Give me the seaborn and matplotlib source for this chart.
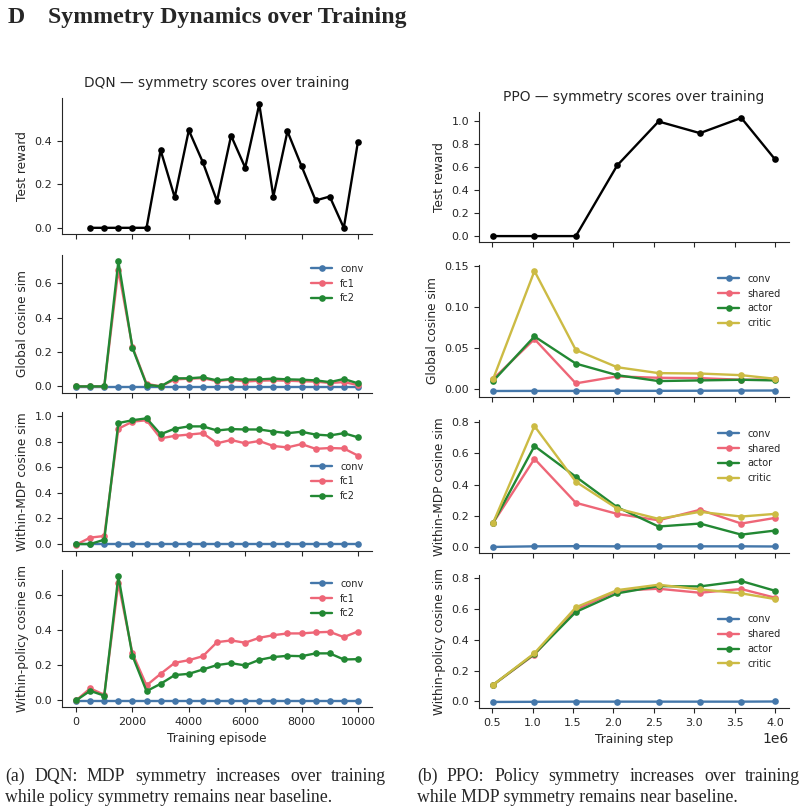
import matplotlib
matplotlib.use("Agg")
import matplotlib.pyplot as plt
import seaborn as sns
import numpy as np

# ---------------- data ----------------
dqn_episodes = [0, 500, 1000, 1500, 2000, 2500, 3000, 3500, 4000, 4500, 5000,
                5500, 6000, 6500, 7000, 7500, 8000, 8500, 9000, 9500, 10000]
dqn_reward_episodes = dqn_episodes[1:]
dqn_reward = [0.0, 0.0, 0.0, 0.0, 0.0, 0.357, 0.14, 0.449, 0.301, 0.123,
              0.424, 0.277, 0.569, 0.144, 0.444, 0.284, 0.126, 0.144, 0.0, 0.395]

dqn_global_conv = [-0.002] * 21
dqn_global_fc1 = [0.0, 0.0, 0.0, 0.68, 0.23, 0.015, 0.0, 0.04, 0.045, 0.048, 0.03,
                  0.04, 0.028, 0.033, 0.035, 0.033, 0.03, 0.028, 0.02, 0.025, 0.008]
dqn_global_fc2 = [0.0, 0.0, 0.0, 0.729, 0.224, 0.01, 0.0, 0.047, 0.047, 0.053, 0.035,
                  0.043, 0.039, 0.041, 0.045, 0.041, 0.039, 0.035, 0.025, 0.043, 0.018]

dqn_mdp_conv = [0.0] * 21
dqn_mdp_fc1 = [-0.005, 0.05, 0.063, 0.9, 0.955, 0.966, 0.825, 0.844, 0.854, 0.865, 0.786,
               0.812, 0.786, 0.804, 0.765, 0.754, 0.78, 0.743, 0.749, 0.746, 0.69]
dqn_mdp_fc2 = [0.0, 0.0, 0.034, 0.944, 0.966, 0.981, 0.857, 0.9, 0.918, 0.918, 0.886,
               0.897, 0.894, 0.894, 0.878, 0.865, 0.876, 0.854, 0.847, 0.865, 0.833]

dqn_pol_conv = [-0.002] * 21
dqn_pol_fc1 = [0.0, 0.069, 0.032, 0.67, 0.269, 0.086, 0.152, 0.215, 0.23, 0.253, 0.333,
               0.343, 0.33, 0.358, 0.373, 0.383, 0.383, 0.389, 0.392, 0.362, 0.394]
dqn_pol_fc2 = [0.0, 0.055, 0.027, 0.71, 0.255, 0.053, 0.095, 0.145, 0.152, 0.177, 0.202,
               0.213, 0.2, 0.232, 0.248, 0.255, 0.253, 0.269, 0.269, 0.234, 0.236]

ppo_steps = [512000, 1024000, 1536000, 2048000, 2560000, 3072000, 3584000, 4000000]
ppo_reward = [0.0, 0.0, 0.0, 0.613, 0.994, 0.893, 1.025, 0.667]

ppo_global_conv = [-0.0028, -0.0027, -0.0027, -0.0026, -0.0026, -0.0025, -0.0023, -0.0022]
ppo_global_shared = [0.0117, 0.0605, 0.0065, 0.015, 0.0133, 0.0129, 0.0109, 0.0113]
ppo_global_actor = [0.0093, 0.0637, 0.0306, 0.0165, 0.0093, 0.0101, 0.0109, 0.0101]
ppo_global_critic = [0.0117, 0.1435, 0.0472, 0.0262, 0.019, 0.0185, 0.0165, 0.0121]

ppo_mdp_conv = [0.0, 0.004, 0.005, 0.004, 0.004, 0.004, 0.004, 0.003]
ppo_mdp_shared = [0.154, 0.565, 0.283, 0.212, 0.171, 0.238, 0.15, 0.186]
ppo_mdp_actor = [0.154, 0.647, 0.45, 0.255, 0.131, 0.15, 0.079, 0.105]
ppo_mdp_critic = [0.154, 0.775, 0.418, 0.246, 0.18, 0.225, 0.195, 0.212]

ppo_pol_conv = [-0.003, -0.002, -0.001, -0.001, -0.001, -0.001, -0.001, 0.0]
ppo_pol_shared = [0.108, 0.305, 0.597, 0.72, 0.733, 0.707, 0.731, 0.675]
ppo_pol_actor = [0.108, 0.309, 0.582, 0.703, 0.75, 0.748, 0.783, 0.72]
ppo_pol_critic = [0.108, 0.314, 0.612, 0.724, 0.759, 0.729, 0.703, 0.666]

colors = {"conv": "#4477AA", "fc1": "#EE6677", "shared": "#EE6677",
          "fc2": "#228833", "actor": "#228833", "critic": "#CCBB44"}

TICK = 8
LABEL = 8.7
TITLE = 9.9
LEG = 7

sns.set_style("ticks")
plt.rcParams["font.family"] = ["DejaVu Sans"]
plt.rcParams["axes.edgecolor"] = "0.15"

W, H = 805, 811
fig = plt.figure(figsize=(W / 100, H / 100), dpi=100)


def add_ax(x0, x1, top, bottom):
    return fig.add_axes([x0 / W, 1 - bottom / H, (x1 - x0) / W, (bottom - top) / H])


def draw_series(ax, x, series, legend_loc):
    for name, vals in series:
        sns.lineplot(x=x, y=vals, ax=ax, color=colors[name], label=name,
                     marker="o", markersize=4.8, markeredgewidth=0, linewidth=1.7)
    ax.legend(loc=legend_loc, frameon=False, fontsize=LEG, handlelength=2.2)


def style(ax, ylabel, show_x=False, xlabel=None):
    sns.despine(ax=ax)
    ax.set_ylabel(ylabel, fontsize=LABEL)
    ax.tick_params(labelsize=TICK, length=3.5, width=0.8)
    if not show_x:
        ax.tick_params(axis="x", labelbottom=False)
        ax.set_xlabel("")
    else:
        ax.set_xlabel(xlabel, fontsize=LABEL)


# ---------------- DQN column ----------------
lx0, lx1 = 62, 372
left_rows = [(98, 234), (255, 393), (412, 551), (570, 707)]
dqn_axes = [add_ax(lx0, lx1, t, b) for t, b in left_rows]
for a in dqn_axes[1:]:
    a.sharex(dqn_axes[0])

ax = dqn_axes[0]
sns.lineplot(x=dqn_reward_episodes, y=dqn_reward, ax=ax, color="black",
             marker="o", markersize=4.8, markeredgewidth=0, linewidth=1.7)
ax.set_title("DQN — symmetry scores over training", fontsize=TITLE, pad=8)
style(ax, "Test reward")

draw_series(dqn_axes[1], dqn_episodes,
            [("conv", dqn_global_conv), ("fc1", dqn_global_fc1), ("fc2", dqn_global_fc2)],
            "upper right")
style(dqn_axes[1], "Global cosine sim")

draw_series(dqn_axes[2], dqn_episodes,
            [("conv", dqn_mdp_conv), ("fc1", dqn_mdp_fc1), ("fc2", dqn_mdp_fc2)],
            "center right")
style(dqn_axes[2], "Within-MDP cosine sim")

draw_series(dqn_axes[3], dqn_episodes,
            [("conv", dqn_pol_conv), ("fc1", dqn_pol_fc1), ("fc2", dqn_pol_fc2)],
            "upper right")
style(dqn_axes[3], "Within-policy cosine sim", show_x=True, xlabel="Training episode")
dqn_axes[3].set_xticks([0, 2000, 4000, 6000, 8000, 10000])
dqn_axes[1].set_yticks([0.0, 0.2, 0.4, 0.6])
dqn_axes[3].set_yticks([0.0, 0.2, 0.4, 0.6])

# ---------------- PPO column ----------------
rx0, rx1 = 479, 789
right_rows = [(112, 242), (265, 397), (420, 553), (575, 708)]
ppo_axes = [add_ax(rx0, rx1, t, b) for t, b in right_rows]
for a in ppo_axes[1:]:
    a.sharex(ppo_axes[0])

ax = ppo_axes[0]
sns.lineplot(x=ppo_steps, y=ppo_reward, ax=ax, color="black",
             marker="o", markersize=4.8, markeredgewidth=0, linewidth=1.7)
ax.set_title("PPO — symmetry scores over training", fontsize=TITLE, pad=8)
style(ax, "Test reward")
ax.set_yticks([0.0, 0.2, 0.4, 0.6, 0.8, 1.0])

draw_series(ppo_axes[1], ppo_steps,
            [("conv", ppo_global_conv), ("shared", ppo_global_shared),
             ("actor", ppo_global_actor), ("critic", ppo_global_critic)],
            "upper right")
style(ppo_axes[1], "Global cosine sim")

draw_series(ppo_axes[2], ppo_steps,
            [("conv", ppo_mdp_conv), ("shared", ppo_mdp_shared),
             ("actor", ppo_mdp_actor), ("critic", ppo_mdp_critic)],
            "upper right")
style(ppo_axes[2], "Within-MDP cosine sim")

draw_series(ppo_axes[3], ppo_steps,
            [("conv", ppo_pol_conv), ("shared", ppo_pol_shared),
             ("actor", ppo_pol_actor), ("critic", ppo_pol_critic)],
            "center right")
style(ppo_axes[3], "Within-policy cosine sim", show_x=True, xlabel="Training step")
ppo_axes[3].set_xticks(np.arange(0.5e6, 4.01e6, 0.5e6))
ppo_axes[3].xaxis.get_offset_text().set_fontsize(10)
ppo_axes[1].set_yticks([0.0, 0.05, 0.10, 0.15])
ppo_axes[1].set_yticklabels(["0.00", "0.05", "0.10", "0.15"])

# ---------------- heading and captions ----------------
serif = ["Liberation Serif", "DejaVu Serif"]
fig.text(8 / W, 1 - 23 / H, "D", fontsize=17.2, fontweight="bold", family=serif, va="baseline")
fig.text(48 / W, 1 - 23 / H, "Symmetry Dynamics over Training", fontsize=17.2,
         fontweight="bold", family=serif, va="baseline")


def justified(x0, x1, y, text, size):
    words = text.split()
    objs = [fig.text(0, 1 - y / H, w, fontsize=size, family=serif, va="baseline") for w in words]
    renderer = fig.canvas.get_renderer()
    widths = [o.get_window_extent(renderer).width for o in objs]
    gap = ((x1 - x0) - sum(widths)) / (len(words) - 1)
    x = x0
    for o, w in zip(objs, widths):
        o.set_x(x / W)
        x += w + gap


CAP = 12.8
justified(5, 386, 781, "(a) DQN: MDP symmetry increases over training", CAP)
fig.text(5 / W, 1 - 802 / H, "while policy symmetry remains near baseline.",
         fontsize=CAP, family=serif, va="baseline")
justified(417, 800, 781, "(b) PPO: Policy symmetry increases over training", CAP)
fig.text(417 / W, 1 - 802 / H, "while MDP symmetry remains near baseline.",
         fontsize=CAP, family=serif, va="baseline")

fig.savefig("out.png", dpi=100)
plt.close(fig)
